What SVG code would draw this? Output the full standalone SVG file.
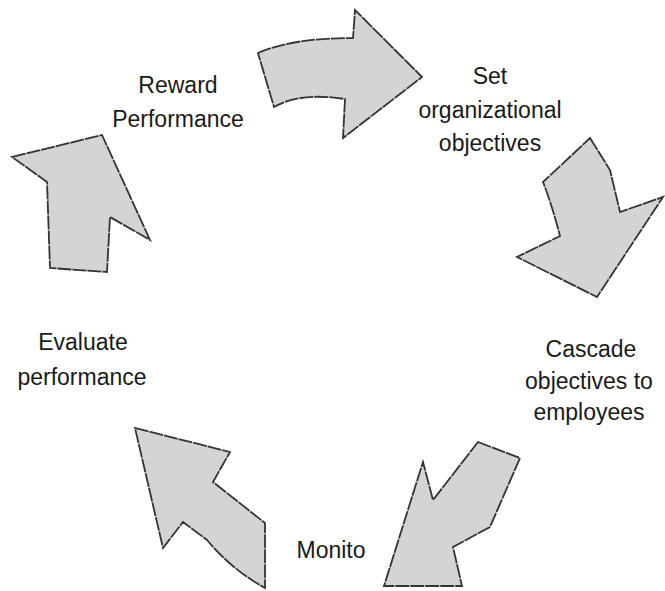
<svg xmlns="http://www.w3.org/2000/svg" width="665" height="591" viewBox="0 0 665 591">
<style>
.arrow{fill:#d3d4d6;stroke:#333333;stroke-width:1.8;stroke-linejoin:miter;stroke-dasharray:14 1}
.lbl{font-family:"Liberation Sans",Arial,sans-serif;font-size:23px;fill:#1a1a1a;text-anchor:middle}
</style>
<rect width="665" height="591" fill="#ffffff"/>
<g id="connectors">
<path id="arrow-top" class="arrow" d="M258,53 Q292,38 353,38 L355,10 L422,77 L343,138 L345,99 Q300,92 274,107 Z"/>
<path id="arrow-right" class="arrow" d="M590,138 L610,170 L620,212 L663,197 L597,297 L517,257 L560,236 Q552,205 543,182 Q556,170 590,138 Z"/>
<path id="arrow-bottom-right" class="arrow" d="M478,442 L520,458 L490,527 L453,547 L462,586 L384,586 L423,462 L433,500 Z"/>
<path id="arrow-bottom-left" class="arrow" d="M135,428 L230,452 L213,482 L265,523 L265,588 Q232,570 207,540 L183,522 L163,548 Z"/>
<path id="arrow-left" class="arrow" d="M12,157 L102,135 L150,240 L110,217 L107,272 L50,268 L47,182 Z"/>
</g>
<g id="node-reward">
<text class="lbl" x="178" y="93">Reward</text>
<text class="lbl" x="178" y="127">Performance</text>
</g>
<g id="node-set">
<text class="lbl" x="490" y="84">Set</text>
<text class="lbl" x="490" y="118">organizational</text>
<text class="lbl" x="490" y="151">objectives</text>
</g>
<g id="node-cascade">
<text class="lbl" x="591" y="357">Cascade</text>
<text class="lbl" x="589" y="389">objectives to</text>
<text class="lbl" x="589" y="420">employees</text>
</g>
<g id="node-monitor">
<text class="lbl" x="331" y="558">Monito</text>
</g>
<g id="node-evaluate">
<text class="lbl" x="83" y="350">Evaluate</text>
<text class="lbl" x="82" y="385">performance</text>
</g>
</svg>
